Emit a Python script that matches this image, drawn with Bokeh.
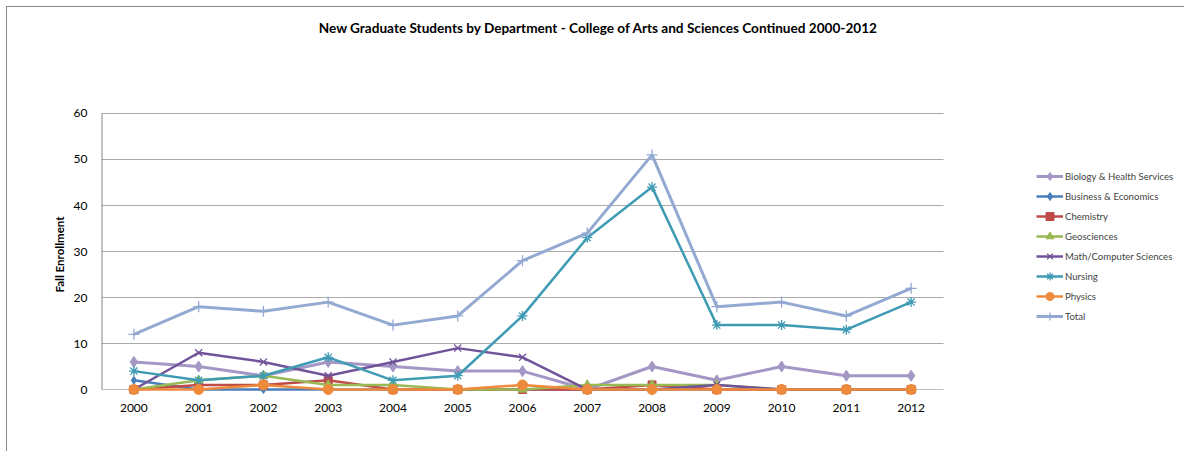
from bokeh.plotting import figure
from bokeh.models import Range1d, FixedTicker, Legend, LegendItem, Label, Title
from bokeh.embed import file_html
from bokeh.resources import INLINE

years = [2000, 2001, 2002, 2003, 2004, 2005, 2006, 2007, 2008, 2009, 2010, 2011, 2012]
biology = [6, 5, 3, 6, 5, 4, 4, 0, 5, 2, 5, 3, 3]
business = [2, 0, 0, 0, 0, 0, 0, 0, 0, 0, 0, 0, 0]
chemistry = [0, 1, 1, 2, 0, 0, 0, 0, 1, 0, 0, 0, 0]
geosciences = [0, 2, 3, 1, 1, 0, 0, 1, 1, 1, 0, 0, 0]
math_cs = [0, 8, 6, 3, 6, 9, 7, 0, 0, 1, 0, 0, 0]
nursing = [4, 2, 3, 7, 2, 3, 16, 33, 44, 14, 14, 13, 19]
physics = [0, 0, 1, 0, 0, 0, 1, 0, 0, 0, 0, 0, 0]
total = [12, 18, 17, 19, 14, 16, 28, 34, 51, 18, 19, 16, 22]
y_ticks = [0, 10, 20, 30, 40, 50, 60]

series = [
    ("Biology & Health Services", biology, "#A497C5", "diamond", 11, 3),
    ("Business & Economics", business, "#4A7EBB", "diamond", 8, 2.5),
    ("Chemistry", chemistry, "#BE4B48", "square", 8, 2.5),
    ("Geosciences", geosciences, "#98B954", "triangle", 9, 2.5),
    ("Math/Computer Sciences", math_cs, "#71539A", "x", 10, 2.5),
    ("Nursing", nursing, "#3F9BB4", "asterisk", 10, 2.5),
    ("Physics", physics, "#EE8A3C", "circle", 10, 2.5),
    ("Total", total, "#93A9D2", "cross", 11, 3),
]

FONT = "Lato"
X0, X1 = 1999.5, 2012.5

p = figure(width=1178, height=445, output_backend="svg", toolbar_location=None,
           x_range=Range1d(X0, 2016.236), y_range=Range1d(-1.3, 83.04),
           min_border_left=94, min_border_right=0, min_border_top=0, min_border_bottom=57)
p.styles = {"margin-left": "6px", "margin-top": "6px",
            "border-left": "1px solid #868686", "border-top": "1px solid #868686"}
p.outline_line_color = None
p.xgrid.visible = False
p.ygrid.visible = False

p.xaxis.ticker = FixedTicker(ticks=years)
p.yaxis.ticker = FixedTicker(ticks=y_ticks)
p.xaxis.axis_line_color = None
p.yaxis.axis_line_color = None
for ax in (p.xaxis[0], p.yaxis[0]):
    ax.major_tick_line_color = None
    ax.minor_tick_line_color = None
    ax.major_label_text_font = FONT
    ax.major_label_text_font_size = "12px"
    ax.major_label_text_color = "#000000"
p.xaxis.major_label_standoff = 2
p.yaxis.major_label_standoff = 8

ylabel = Title(text="Fall Enrollment", align="left", offset=103,
               text_font=FONT, text_font_size="11.5px", text_font_style="bold",
               text_color="#000000")
p.add_layout(ylabel, "left")

# gridlines only across the plotting area
grid_vals = y_ticks[1:]
p.segment(x0=[X0] * len(grid_vals), y0=grid_vals, x1=[X1] * len(grid_vals), y1=grid_vals,
          line_color="#ababab", line_width=1)
# x axis line at 0
p.segment(x0=[X0], y0=[y_ticks[0]], x1=[X1], y1=[y_ticks[0]], line_color="#bfbfbf", line_width=1)
# left axis line from 0 to 60
p.segment(x0=[X0], y0=[y_ticks[0]], x1=[X0], y1=[y_ticks[-1]], line_color="#868686", line_width=2)

items = []
for name, vals, color, marker, size, lw in series:
    r1 = p.line(years, vals, line_color=color, line_width=lw)
    if marker in ("x", "asterisk", "cross"):
        r2 = p.scatter(years, vals, marker=marker, size=size, line_color=color, line_width=1.3)
    else:
        r2 = p.scatter(years, vals, marker=marker, size=size, fill_color=color, line_color=color)
    items.append(LegendItem(label=name, renderers=[r1, r2]))

legend = Legend(items=items, location=(935, 69), orientation="vertical",
                glyph_width=27, glyph_height=20, label_height=20, spacing=0,
                label_standoff=2, padding=0, margin=0,
                label_text_font=FONT, label_text_font_size="9.6px",
                border_line_color=None, background_fill_alpha=0)
p.add_layout(legend, "center")

title = Label(x=497, y=368, x_units="screen", y_units="screen",
              text="New Graduate Students by Department - College of Arts and Sciences Continued 2000-2012",
              text_font=FONT, text_font_size="13.6px", text_font_style="bold",
              text_align="center", text_baseline="middle", text_color="#000000")
p.add_layout(title)

open("out.html", "w").write(file_html(p, INLINE))
